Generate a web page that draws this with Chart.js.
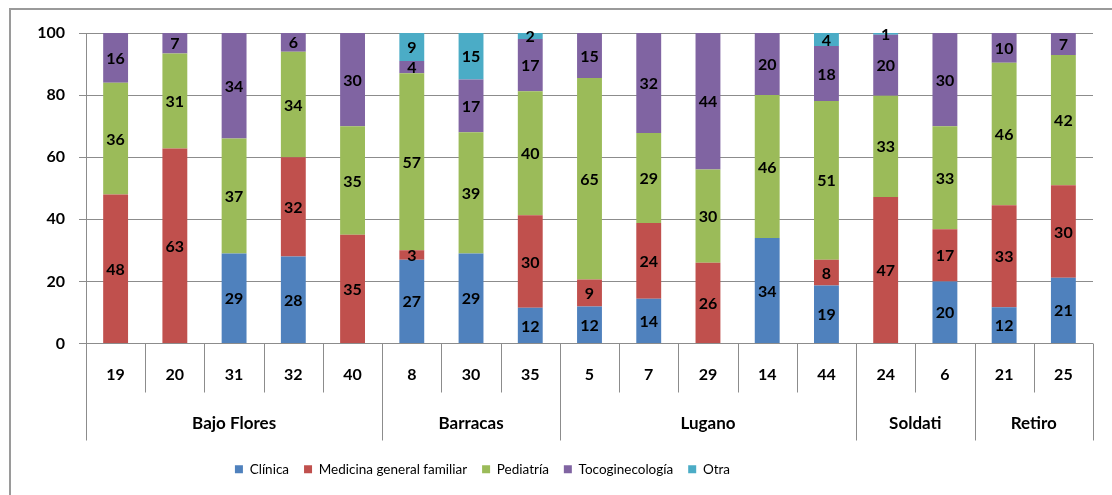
<!DOCTYPE html>
<html>
<head>
<meta charset="utf-8">
<script src="https://cdn.jsdelivr.net/npm/chart.js@4.4.1/dist/chart.umd.min.js"></script>
<style>
  html, body { margin: 0; padding: 0; background: #fff; }
  #wrap { position: relative; width: 1112px; height: 495px; overflow: hidden; }
  #frame { position: absolute; left: 9px; top: 8px; width: 1200px; height: 600px;
           border-left: 2px solid #9a9a9a; border-top: 2px solid #9a9a9a; box-sizing: border-box; }
  canvas { position: absolute; left: 0; top: 0; }
</style>
</head>
<body>
<div id="wrap">
  <div id="frame"></div>
  <canvas id="c" width="1112" height="495"></canvas>
</div>
<script>
// ---- data (percent per sede) ----
const categories = ["19","20","31","32","40","8","30","35","5","7","29","14","44","24","6","21","25"];
const groups = ["Bajo Flores","Barracas","Lugano","Soldati","Retiro"];
const groupSizes = [5, 3, 5, 2, 2];
const seriesNames = ["Clínica","Medicina general familiar","Pediatría","Tocoginecología","Otra"];
const clinica      = [0, 0, 29, 28, 0, 27, 29, 11.5, 11.9, 14.4, 0, 34, 18.7, 0, 20, 11.7, 21.2];
const medicina     = [48, 62.8, 0, 32, 35, 3, 0, 29.8, 8.7, 24.4, 26, 0, 8.3, 47.2, 16.8, 32.8, 29.8];
const pediatria    = [36, 30.6, 37, 34, 35, 57, 39, 39.9, 64.9, 29, 30, 46, 51.1, 32.6, 33.2, 45.9, 41.9];
const tocogineco   = [16, 6.6, 34, 6, 30, 4, 17, 16.9, 14.5, 32.2, 44, 20, 17.7, 19.6, 30, 9.6, 7.1];
const otra         = [0, 0, 0, 0, 0, 9, 15, 1.9, 0, 0, 0, 0, 4.2, 0.6, 0, 0, 0];
const yTicks = [0, 20, 40, 60, 80, 100];

const colors = ["#4F81BD", "#C0504D", "#9BBB59", "#8064A2", "#4BACC6"];
const seriesData = [clinica, medicina, pediatria, tocogineco, otra];
const FONT = "Lato, 'Open Sans', sans-serif";
const GRID = "#8c8c8c";

const dataLabels = {
  id: "dataLabels",
  afterDatasetsDraw(chart) {
    const ctx = chart.ctx;
    ctx.save();
    ctx.font = "bold 16px " + FONT;
    ctx.fillStyle = "#000";
    ctx.textAlign = "center";
    ctx.textBaseline = "middle";
    chart.data.datasets.forEach((ds, i) => {
      const meta = chart.getDatasetMeta(i);
      meta.data.forEach((el, j) => {
        const v = ds.data[j];
        if (!v) return;
        const y = (el.y + el.base) / 2;
        ctx.fillText(String(Math.round(v)), el.x, y + 1);
      });
    });
    ctx.restore();
  }
};

const groupAxis = {
  id: "groupAxis",
  afterDraw(chart) {
    const ctx = chart.ctx;
    const x = chart.scales.x;
    const area = chart.chartArea;
    const n = categories.length;
    const base = area.bottom;
    ctx.save();
    ctx.strokeStyle = GRID;
    ctx.lineWidth = 1;
    const bounds = new Set([0]);
    let acc = 0;
    groupSizes.forEach(s => { acc += s; bounds.add(acc); });
    for (let i = 0; i <= n; i++) {
      const px = Math.round(x.getPixelForValue(i - 0.5)) + 0.5;
      const len = bounds.has(i) ? 97 : 49;
      ctx.beginPath();
      ctx.moveTo(px, base);
      ctx.lineTo(px, base + len);
      ctx.stroke();
    }
    ctx.font = "bold 17px " + FONT;
    ctx.fillStyle = "#000";
    ctx.textAlign = "center";
    ctx.textBaseline = "middle";
    let start = 0;
    groups.forEach((g, gi) => {
      const end = start + groupSizes[gi] - 1;
      const cx = (x.getPixelForValue(start) + x.getPixelForValue(end)) / 2;
      ctx.fillText(g, cx, base + 80);
      start += groupSizes[gi];
    });
    ctx.restore();
  }
};

const legendShift = {
  id: "legendShift",
  afterLayout(chart) {
    const lg = chart.legend;
    if (lg) { lg.left -= 64; lg.right -= 64; }
  }
};

new Chart(document.getElementById("c"), {
  type: "bar",
  data: {
    labels: categories,
    datasets: seriesNames.map((name, i) => ({
      label: name,
      data: seriesData[i],
      backgroundColor: colors[i],
      borderWidth: 0,
      barPercentage: 0.42,
      categoryPercentage: 1.0
    }))
  },
  options: {
    responsive: false,
    animation: false,
    devicePixelRatio: 1,
    layout: { padding: { left: 0, right: 19, top: 33, bottom: 9 } },
    plugins: {
      legend: {
        position: "bottom",
        labels: {
          boxWidth: 8, boxHeight: 8, padding: 15,
          color: "#000",
          font: { family: FONT, size: 13.5 }
        }
      },
      tooltip: { enabled: false }
    },
    scales: {
      x: {
        stacked: true,
        grid: { display: false },
        border: { display: false },
        ticks: { color: "#000", font: { family: FONT, size: 16, weight: "bold" }, padding: 14, maxRotation: 0, autoSkip: false },
        afterFit(s) { s.height = 104; }
      },
      y: {
        stacked: true,
        min: 0, max: 100,
        afterBuildTicks(s) { s.ticks = yTicks.map(v => ({ value: v })); },
        grid: { color: GRID, tickLength: 7, lineWidth: 1 },
        border: { color: GRID, width: 1 },
        ticks: { color: "#000", font: { family: FONT, size: 16, weight: "bold" }, padding: 14 },
        afterFit(s) { s.width = 86; }
      }
    }
  },
  plugins: [dataLabels, groupAxis, legendShift]
});
</script>
</body>
</html>
